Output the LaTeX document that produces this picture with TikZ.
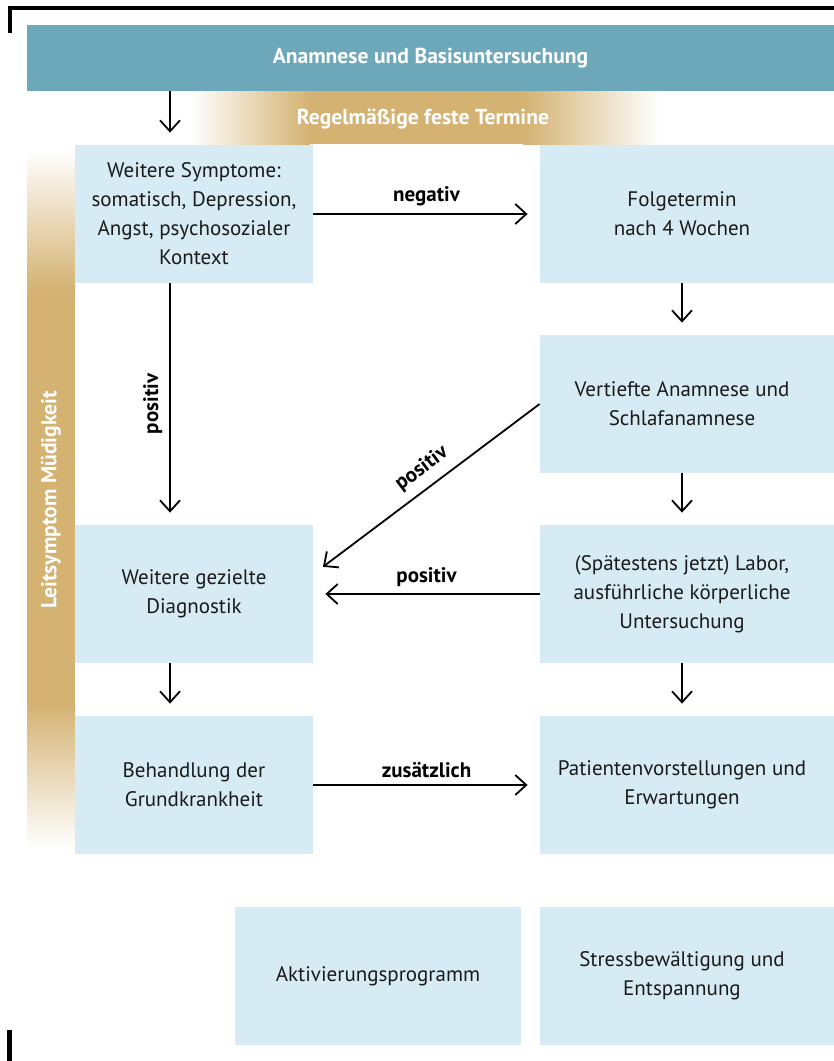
\documentclass[tikz,border=0pt]{standalone}
\usepackage{fontspec}
\setmainfont{PT Sans}
\usetikzlibrary{arrows.meta}
\definecolor{headblue}{HTML}{6DA8BA}
\definecolor{boxblue}{HTML}{D6EBF4}
\definecolor{gold}{HTML}{D4B272}
\definecolor{textdark}{HTML}{1A1A1A}

\begin{document}
\begin{tikzpicture}[
  x=0.5pt, y=-0.5pt,
  box/.style={fill=boxblue, minimum width=119pt, minimum height=69pt, inner sep=0pt,
              align=center, font=\fontsize{10.5}{14.5}\selectfont, text=textdark},
  rbox/.style={box, minimum width=142pt},
  arr/.style={-{Straight Barb[length=5.5pt,width=10pt]}, line width=0.9pt, shorten >=6pt},
  lbl/.style={font=\fontsize{10.5}{12}\selectfont\bfseries, text=black},
  bandtext/.style={font=\fontsize{10.8}{12}\selectfont\bfseries, text=white},
]
  \useasboundingbox (0,0) rectangle (834,1061);
  \fill[white] (0,0) rectangle (834,1061);

  % Corner marks
  \draw[line width=2pt] (9.5,33) -- (9.5,8) -- (834,8);
  \draw[line width=2.5pt] (9.5,1030) -- (9.5,1061);

  % Header
  \node[fill=headblue, minimum width=403.5pt, minimum height=33pt, inner sep=0pt, bandtext]
    (head) at (430.5,58) {Anamnese und Basisuntersuchung};

  % Gold band (top)
  \fill[left color=white, right color=gold] (190,91) rectangle (310,144);
  \fill[gold] (310,91) rectangle (523,144);
  \fill[left color=gold, right color=white] (523,91) rectangle (660,144);
  \node[bandtext] (termine) at (423,119) {Regelmäßige feste Termine};

  % Gold band (left)
  \fill[top color=white, bottom color=gold] (27,150) rectangle (75,290);
  \fill[gold] (27,290) rectangle (75,703);
  \fill[top color=gold, bottom color=white] (27,703) rectangle (75,848);
  \node[bandtext, rotate=90] (leit) at (51,500) {Leitsymptom Müdigkeit};

  % Boxes
  \node[box] (symptome) at (194,214) {Weitere Symptome:\\somatisch, Depression,\\Angst, psychosozialer\\Kontext};
  \node[rbox] (folge) at (682,214) {Folgetermin\\nach 4 Wochen};
  \node[rbox] (vertieft) at (682,404) {Vertiefte Anamnese und\\Schlafanamnese};
  \node[box] (diagnostik) at (194,594) {Weitere gezielte\\Diagnostik};
  \node[rbox] (labor) at (682,594) {(Spätestens jetzt) Labor,\\ausführliche körperliche\\Untersuchung};
  \node[box] (behandlung) at (194,785) {Behandlung der\\Grundkrankheit};
  \node[rbox] (patient) at (682,785) {Patientenvorstellungen und\\Erwartungen};
  \node[box, minimum width=143pt] (aktiv) at (378,976) {Aktivierungsprogramm};
  \node[rbox] (stress) at (682,976) {Stressbewältigung und\\Entspannung};

  % right column runs to the edge
  \foreach \n in {folge,vertieft,labor,patient,stress}
    \fill[boxblue] (\n.north east) rectangle ([xshift=5pt]\n.south east);

  % Arrows
  \coordinate (lcol) at (170,0);
  \draw[arr] (head.south -| lcol) -- (symptome.north -| lcol);
  \draw[arr] (symptome) -- node[lbl, above] {negativ} (folge);
  \draw[arr] (symptome.south -| lcol) -- node[lbl, rotate=90, anchor=south] {positiv}
    (diagnostik.north -| lcol);
  \draw[arr] (folge) -- (vertieft);
  \draw[arr] (vertieft.west) -- node[lbl, sloped, above=1pt, pos=0.47] {positiv}
    ([yshift=10pt]diagnostik.east);
  \draw[arr] (vertieft) -- (labor);
  \draw[arr] (labor) -- node[lbl, above] {positiv} (diagnostik);
  \draw[arr] (diagnostik.south -| lcol) -- (behandlung.north -| lcol);
  \draw[arr] (labor) -- (patient);
  \draw[arr] (behandlung) -- node[lbl, above] {zusätzlich} (patient);
\end{tikzpicture}
\end{document}
